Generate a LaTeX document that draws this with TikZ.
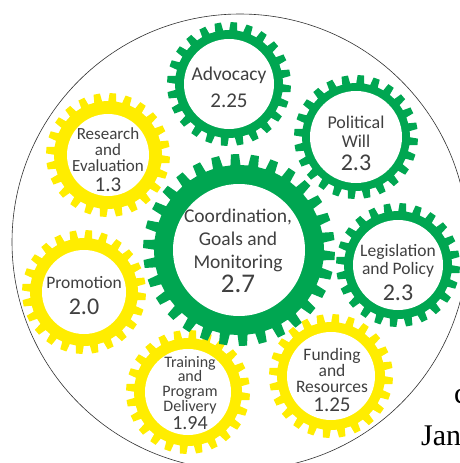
\documentclass[tikz,border=0pt]{standalone}
\usepackage{fontspec}
\setmainfont{Carlito}
\newfontfamily\serifpage{Liberation Serif}
\usepackage{tikz}
\usetikzlibrary{positioning, calc}

\definecolor{geargreen}{RGB}{0,166,81}
\definecolor{gearyellow}{RGB}{255,237,0}
\definecolor{labelgray}{RGB}{64,64,64}

% centre, teeth, root radius, tip radius, bore radius, colour
\newcommand{\gearwheel}[6]{%
\begin{scope}[shift={#1}]
\fill[#6] (0:#3) \foreach \t in {1,...,#2} {
  -- ({(\t-1+0.02)*360/#2}:#3) -- ({(\t-1+0.1)*360/#2}:#4)
  -- ({(\t-1+0.5)*360/#2}:#4) -- ({(\t-1+0.58)*360/#2}:#3)
} -- cycle;
\fill[white] (0,0) circle[radius=#5pt];
\end{scope}}

\tikzset{
  gearlabel/.style={align=center, text=labelgray, inner sep=0pt,
    font=\fontsize{17.5}{16}\selectfont},
  gearvalue/.style={text=labelgray, inner sep=0pt,
    font=\fontsize{22}{22}\selectfont},
  pagetext/.style={inner sep=0pt, anchor=base west,
    font=\serifpage\fontsize{30}{30}\selectfont}
}

\begin{document}
\begin{tikzpicture}[x=1pt,y=-1pt]
\useasboundingbox (0,0) rectangle (460,463);
\fill[white] (0,0) rectangle (460,463);
\draw[line width=0.6pt, black!80] (240,242) circle[radius=228pt];

\foreach \cx/\cy/\bore/\col in {108/155/41/gearyellow, 84/292/42/gearyellow,
  188/392/43/gearyellow, 331/376/44/gearyellow, 229/84/45/geargreen,
  356/137/46/geargreen, 398/265/45/geargreen} {
\gearwheel{(\cx,\cy)}{24}{54}{62}{\bore}{\col}
}
\gearwheel{(239,250)}{30}{85}{96}{66}{geargreen}

\node[gearlabel, font=\fontsize{19.5}{20}\selectfont] (advocacy) at (229,75) {Advocacy};
\node[gearvalue, font=\fontsize{21}{21}\selectfont] (advocacyval) at (229,101) {2.25};
\node[gearlabel, font=\fontsize{17}{16}\selectfont] (research) at (108,150) {Research\\and\\Evaluation};
\node[gearvalue, font=\fontsize{21}{21}\selectfont] (researchval) at (108,185) {1.3};
\node[gearlabel, font=\fontsize{18}{19}\selectfont] (political) at (356,132) {Political\\Will};
\node[gearvalue, font=\fontsize{24}{24}\selectfont] (politicalval) at (356,163) {2.3};
\node[gearlabel, font=\fontsize{19.5}{23}\selectfont] (coordination) at (238,240) {Coordination,\\Goals and\\Monitoring};
\node[gearvalue, font=\fontsize{27}{27}\selectfont] (coordinationval) at (238,284) {2.7};
\node[gearlabel, font=\fontsize{17.5}{18}\selectfont] (legislation) at (398,261) {Legislation\\and Policy};
\node[gearvalue, font=\fontsize{24}{24}\selectfont] (legislationval) at (398,293) {2.3};
\node[gearlabel] (promotion) at (84,283) {Promotion};
\node[gearvalue, font=\fontsize{24}{24}\selectfont] (promotionval) at (84,307) {2.0};
\node[gearlabel, font=\fontsize{16}{14.7}\selectfont] (training) at (190,385) {Training\\and\\Program\\Delivery};
\node[gearvalue, font=\fontsize{20}{20}\selectfont] (trainingval) at (190,423) {1.94};
\node[gearlabel] (funding) at (332,370) {Funding\\and\\Resources};
\node[gearvalue, font=\fontsize{21}{21}\selectfont] (fundingval) at (332,405) {1.25};

\node[pagetext] (pagec) at (454,403) {c};
\node[pagetext] (pagejan) at (421,445) {Jan};
\end{tikzpicture}
\end{document}
